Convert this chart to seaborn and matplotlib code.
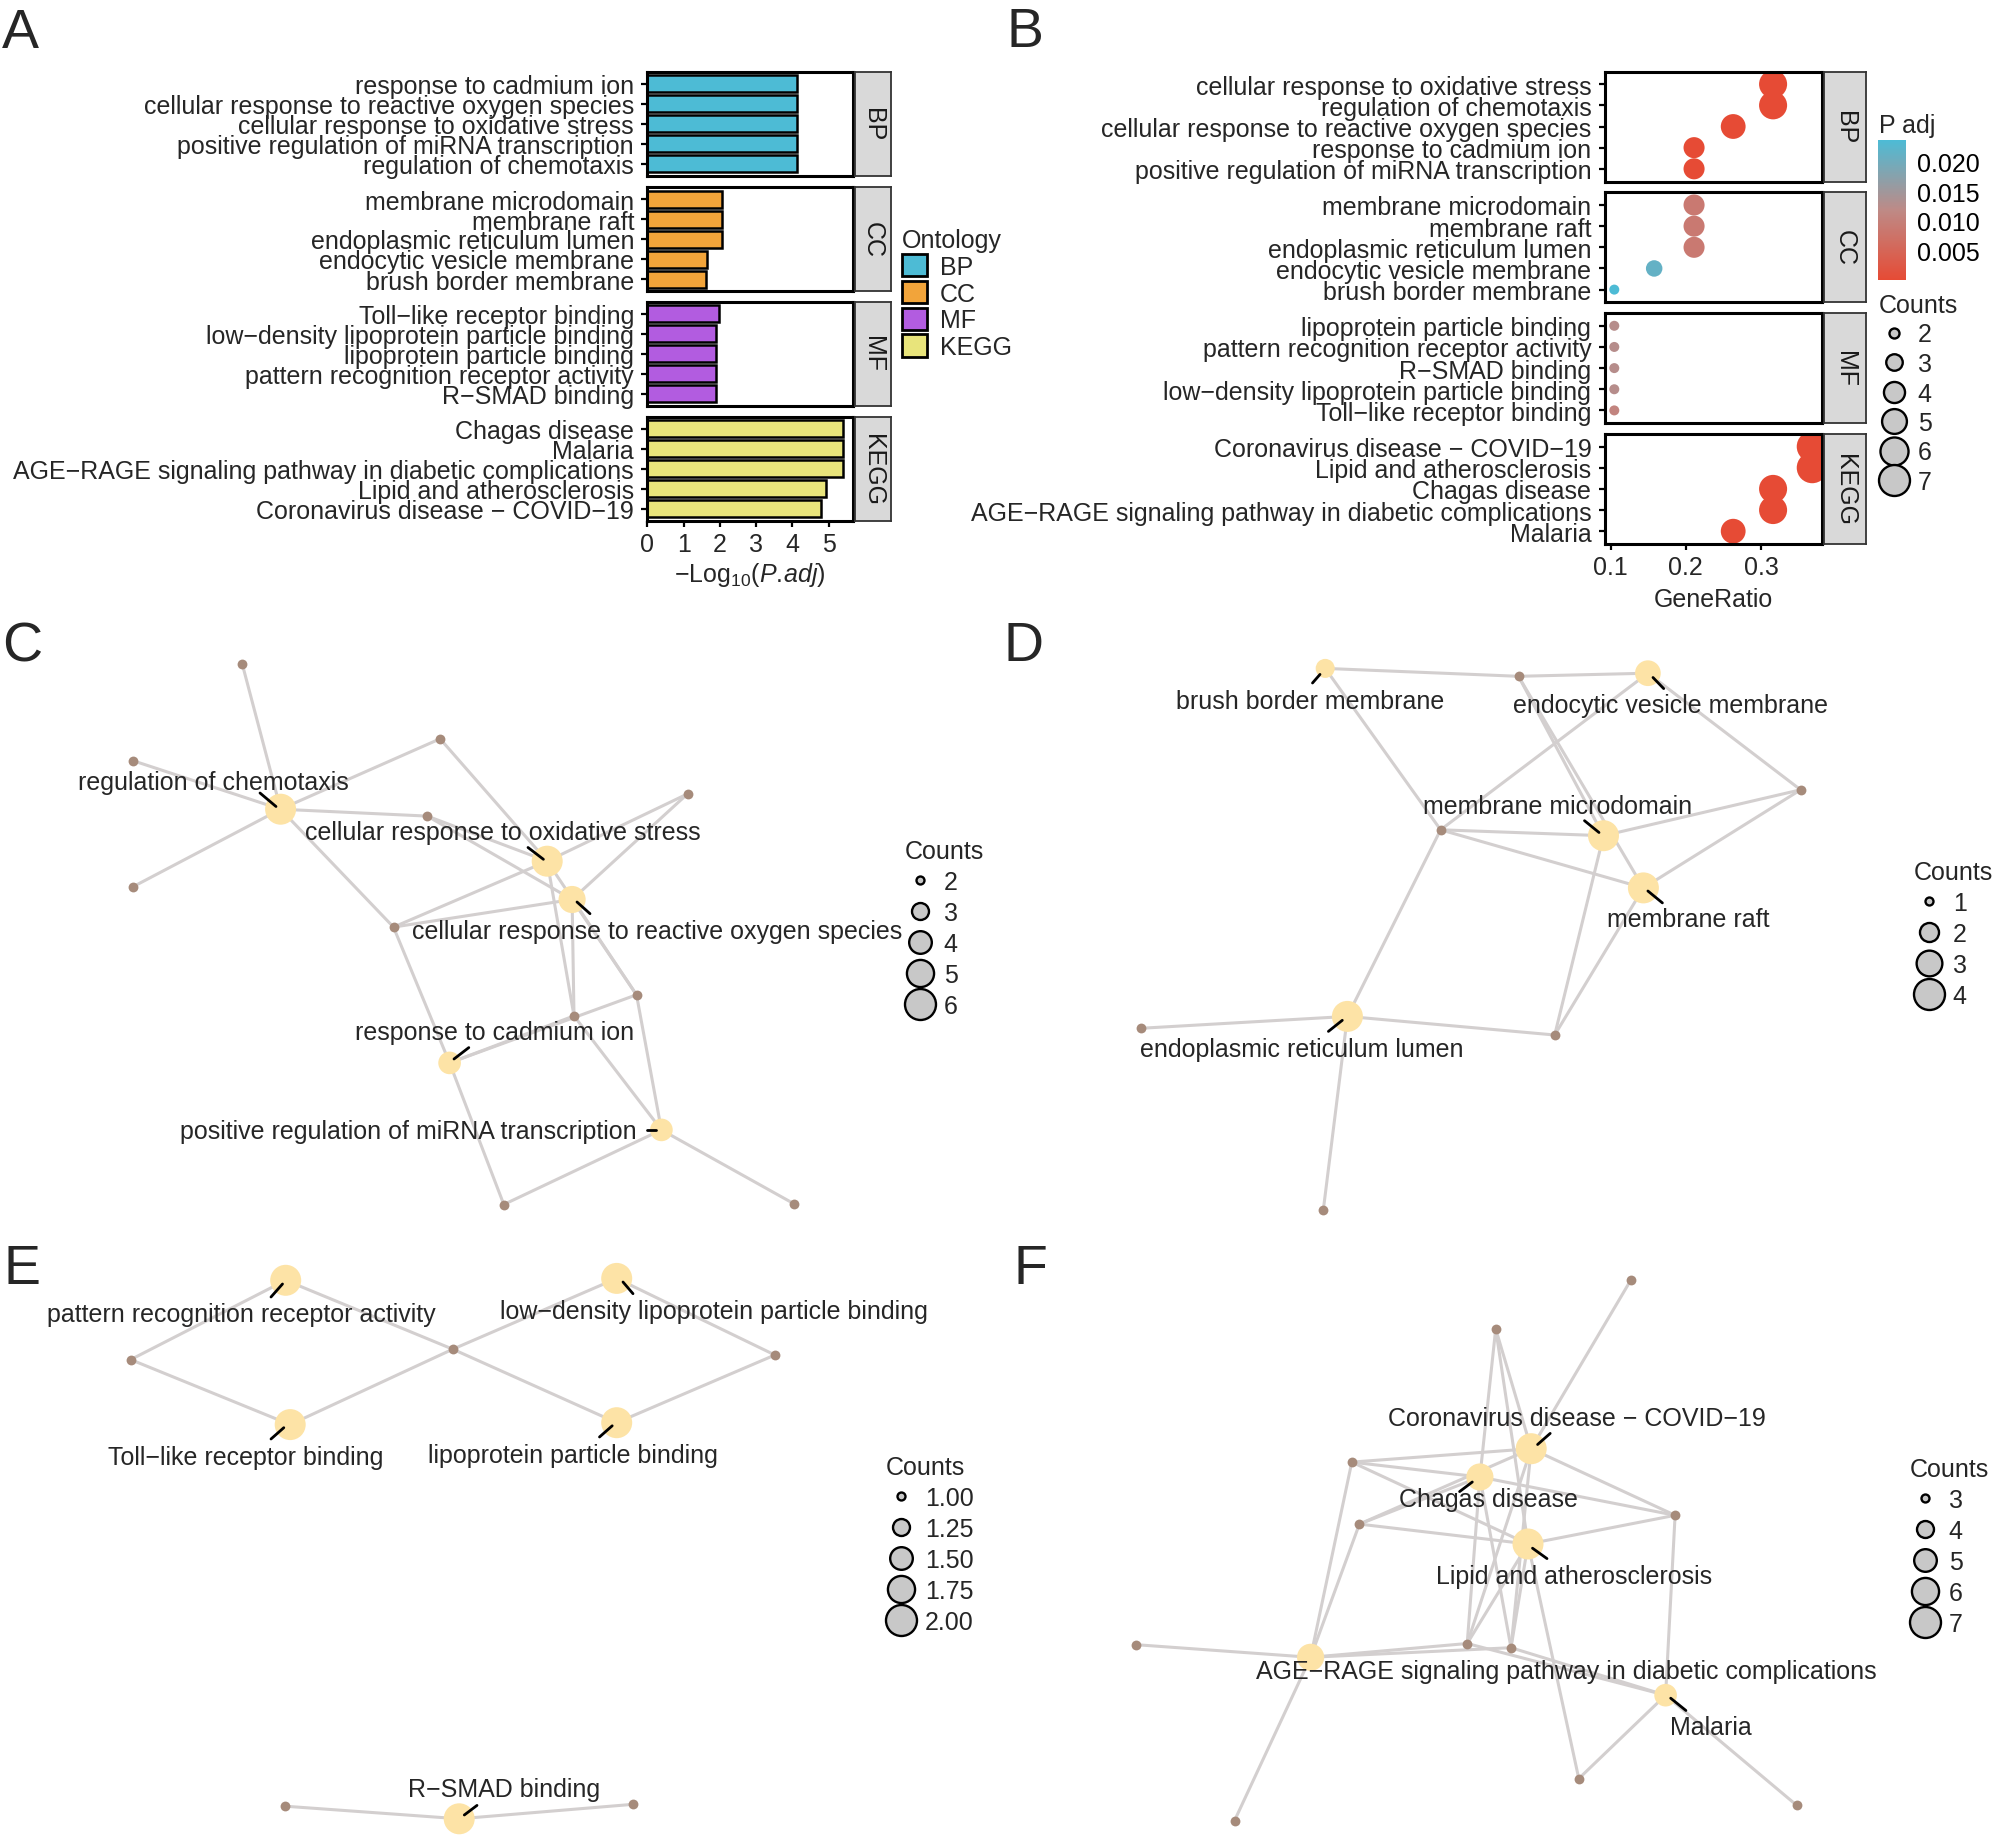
import numpy as np
import pandas as pd
import seaborn as sns
import matplotlib.pyplot as plt
import matplotlib.cm as cm
from matplotlib.colors import LinearSegmentedColormap, Normalize
from matplotlib.lines import Line2D
from matplotlib.patches import Patch

sns.set_theme(style="white")
plt.rcParams['font.family'] = ['Liberation Sans', 'DejaVu Sans']
plt.rcParams['mathtext.fontset'] = 'custom'
plt.rcParams['mathtext.rm'] = 'Liberation Sans'
plt.rcParams['mathtext.it'] = 'Liberation Sans:italic'

W, H = 1994, 1840
FS = 18

# ---------------- panel A data (-log10 padj) ----------------
bp_terms = ["response to cadmium ion", "cellular response to reactive oxygen species",
            "cellular response to oxidative stress", "positive regulation of miRNA transcription",
            "regulation of chemotaxis"]
bp_logp = [4.12, 4.12, 4.12, 4.12, 4.12]
cc_terms = ["membrane microdomain", "membrane raft", "endoplasmic reticulum lumen",
            "endocytic vesicle membrane", "brush border membrane"]
cc_logp = [2.06, 2.06, 2.06, 1.65, 1.62]
mf_terms = ["Toll−like receptor binding", "low−density lipoprotein particle binding",
            "lipoprotein particle binding", "pattern recognition receptor activity", "R−SMAD binding"]
mf_logp = [1.97, 1.90, 1.90, 1.90, 1.90]
kegg_terms = ["Chagas disease", "Malaria", "AGE−RAGE signaling pathway in diabetic complications",
              "Lipid and atherosclerosis", "Coronavirus disease − COVID−19"]
kegg_logp = [5.39, 5.39, 5.39, 4.93, 4.79]
onto_names = ["BP", "CC", "MF", "KEGG"]
onto_colors = ["#4DBBD5", "#F2A43A", "#B25CE0", "#E8E47B"]

# ---------------- panel B data ----------------
bp_b_terms = ["cellular response to oxidative stress", "regulation of chemotaxis",
              "cellular response to reactive oxygen species", "response to cadmium ion",
              "positive regulation of miRNA transcription"]
bp_b_ratio = [0.316, 0.316, 0.263, 0.211, 0.211]
bp_b_count = [6, 6, 5, 4, 4]
bp_b_padj = [7.6e-5, 7.6e-5, 7.6e-5, 7.6e-5, 7.6e-5]
cc_b_terms = ["membrane microdomain", "membrane raft", "endoplasmic reticulum lumen",
              "endocytic vesicle membrane", "brush border membrane"]
cc_b_ratio = [0.211, 0.211, 0.211, 0.158, 0.105]
cc_b_count = [4, 4, 4, 3, 2]
cc_b_padj = [0.0087, 0.0087, 0.0087, 0.0212, 0.0236]
mf_b_terms = ["lipoprotein particle binding", "pattern recognition receptor activity", "R−SMAD binding",
              "low−density lipoprotein particle binding", "Toll−like receptor binding"]
mf_b_ratio = [0.105, 0.105, 0.105, 0.105, 0.105]
mf_b_count = [2, 2, 2, 2, 2]
mf_b_padj = [0.0126, 0.0126, 0.0126, 0.0126, 0.0107]
kegg_b_terms = ["Coronavirus disease − COVID−19", "Lipid and atherosclerosis", "Chagas disease",
                "AGE−RAGE signaling pathway in diabetic complications", "Malaria"]
kegg_b_ratio = [0.368, 0.368, 0.316, 0.316, 0.263]
kegg_b_count = [7, 7, 6, 6, 5]
kegg_b_padj = [1.6e-5, 1.2e-5, 4.1e-6, 4.1e-6, 4.1e-6]

# ---------------- network data (layout coords, px inside each panel) ----------------
# C: BP
c_cat = ["regulation of chemotaxis", "cellular response to oxidative stress",
         "cellular response to reactive oxygen species", "response to cadmium ion",
         "positive regulation of miRNA transcription"]
c_cat_x = [280.6, 547.2, 572.1, 449.6, 661.4]
c_cat_y = [190.2, 242.2, 280.5, 443.9, 510.9]
c_count = [6, 6, 5, 4, 4]
c_gene_x = [242.3, 132.7, 132.7, 440.1, 427.3, 687.5, 393.5, 636.5, 574.0, 503.8, 794.0]
c_gene_y = [45.2, 141.6, 267.9, 119.8, 197.1, 174.9, 308.1, 375.8, 396.9, 585.5, 584.8]
c_links = [[0, 1, 2, 3, 4, 6], [3, 4, 5, 6, 8, 7], [4, 5, 6, 8, 7], [6, 8, 7, 9], [7, 8, 9, 10]]
c_lab_x = [213.6, 502.6, 656.9, 494.3, 408.2]
c_lab_y = [163.4, 213.2, 311.9, 413.3, 512.0]
c_lead = [(260, 174, 276, 187.5), (528, 228.5, 543.4, 240.3), (577, 283, 590, 294.7),
          (468.8, 428.6, 454, 440), (647, 511, 656, 511)]

# D: CC
d_cat = ["brush border membrane", "endocytic vesicle membrane", "membrane microdomain",
         "membrane raft", "endoplasmic reticulum lumen"]
d_cat_x = [328.2, 650.9, 606.5, 646.4, 350.4]
d_cat_y = [49.4, 54.2, 216.7, 268.9, 397.4]
d_count = [2, 3, 4, 4, 4]
d_gene_x = [521.5, 803.6, 443.6, 143.7, 557.7, 326.3]
d_gene_y = [57.3, 170.8, 210.8, 409.3, 416.0, 591.1]
d_links = [[0, 2], [0, 1, 2], [0, 1, 2, 4], [0, 1, 2, 4], [2, 3, 4, 5]]
d_lab_x = [313.6, 673.7, 560.9, 690.8, 304.7]
d_lab_y = [82.2, 86.2, 187.0, 300.5, 430.2]
d_lead = [(315.5, 64, 323, 55.4), (656, 58.5, 666.7, 69.6), (587.5, 201.7, 602, 213.5),
          (650.9, 272, 665.4, 283.9), (345.3, 401.3, 331.4, 412.4)]

# E: MF
e_cat = ["pattern recognition receptor activity", "low−density lipoprotein particle binding",
         "Toll−like receptor binding", "lipoprotein particle binding", "R−SMAD binding"]
e_cat_x = [285.7, 616.7, 290.2, 616.7, 459.2]
e_cat_y = [41.3, 39.4, 185.6, 183.7, 579.8]
e_count = [2, 2, 2, 2, 2]
e_gene_x = [130.7, 452.8, 774.9, 285.1, 633.3]
e_gene_y = [120.6, 110.2, 116.0, 567.2, 565.3]
e_links = [[0, 1], [1, 2], [0, 1], [1, 2], [3, 4]]
e_lab_x = [241.0, 714.3, 245.5, 572.7, 503.8]
e_lab_y = [74.6, 72.0, 218.1, 216.2, 550.0]
e_lead = [(271, 58, 282.5, 45), (623, 43, 633, 54.7), (271, 200, 283.8, 188.7),
          (599.5, 198, 612.2, 186.8), (464.3, 576, 477, 566.4)]

# F: KEGG
f_cat = ["Coronavirus disease − COVID−19", "Chagas disease", "Lipid and atherosclerosis",
         "AGE−RAGE signaling pathway in diabetic complications", "Malaria"]
f_cat_x = [534.2, 482.9, 531.0, 313.6, 668.6]
f_cat_y = [209.7, 238.0, 305.0, 418.3, 456.2]
f_count = [7, 6, 7, 6, 5]
f_gene_x = [633.7, 498.7, 354.8, 678.1, 362.4, 139.3, 470.2, 514.0, 581.8, 237.5, 799.8]
f_gene_y = [41.3, 89.9, 223.1, 276.3, 285.1, 405.7, 404.5, 408.7, 539.6, 581.7, 566.4]
f_links = [[0, 1, 2, 3, 4, 6, 7], [1, 2, 3, 4, 6, 7], [1, 2, 3, 4, 6, 7, 8],
           [2, 4, 5, 6, 7, 9], [3, 6, 7, 8, 10]]
f_lab_x = [579.9, 491.1, 576.7, 569.1, 714.3]
f_lab_y = [178.7, 260.2, 336.8, 432.5, 488.0]
f_lead = [(540.6, 205.5, 553.2, 194.4), (475.3, 243, 462.6, 252.6), (535.5, 309.2, 550, 319.6),
          None, (673.7, 459.2, 688.9, 471.5)]


def box(x0, y0, x1, y1):
    return [x0 / W, 1 - y1 / H, (x1 - x0) / W, (y1 - y0) / H]


def frame(ax):
    for s in ax.spines.values():
        s.set_visible(True)
        s.set_color('black')
        s.set_linewidth(2.2)


def strip(x0, y0, x1, y1, text):
    sax = fig.add_axes(box(x0, y0, x1, y1))
    sax.set_facecolor('#D9D9D9')
    for s in sax.spines.values():
        s.set_visible(True)
        s.set_color('#333333')
        s.set_linewidth(1.3)
    sax.set_xticks([])
    sax.set_yticks([])
    sax.text(0.5, 0.5, text, rotation=-90, ha='center', va='center', fontsize=FS,
             color='#1A1A1A', transform=sax.transAxes)


def size_legend(values, labels, s_range, norm, x, y, spacing=0.28, face='#C8C8C8'):
    handles = []
    for v in values:
        s = s_range[0] + (v - norm[0]) / (norm[1] - norm[0]) * (s_range[1] - s_range[0])
        handles.append(Line2D([], [], linestyle='none', marker='o', markersize=np.sqrt(s),
                              markerfacecolor=face, markeredgecolor='black', markeredgewidth=1.7))
    fig.legend(handles, labels, loc='upper left', bbox_to_anchor=(x / W, 1 - y / H),
               title='Counts', frameon=False, fontsize=FS, title_fontsize=FS, alignment='left',
               handlelength=1.2, handletextpad=0.35, labelspacing=spacing, borderpad=0, borderaxespad=0)


fig = plt.figure(figsize=(19.94, 18.40), dpi=100)

# ---------------- A: bar facets ----------------
a_sets = [(bp_terms, bp_logp), (cc_terms, cc_logp), (mf_terms, mf_logp), (kegg_terms, kegg_logp)]
a_rows = [(72.5, 177), (188, 292), (302.5, 406.5), (417.5, 521.5)]
for i, ((terms, vals), (y0, y1)) in enumerate(zip(a_sets, a_rows)):
    ax = fig.add_axes(box(647.3, y0, 852.7, y1))
    sns.barplot(x=vals, y=terms, orient='h', color=onto_colors[i], saturation=1,
                edgecolor='black', linewidth=1.8, width=0.85, ax=ax)
    ax.set_xlim(0, 5.66)
    ax.set_ylim(4.6, -0.6)
    ax.set_ylabel('')
    ax.tick_params(axis='y', left=True, length=4, width=1.6, pad=5.5, labelsize=FS, color='black')
    frame(ax)
    if i < 3:
        ax.set_xticks([])
    else:
        ax.set_xticks(range(6))
        ax.tick_params(axis='x', bottom=True, length=4, width=1.6, pad=4, labelsize=FS, color='black')
        ax.set_xlabel('−Log$_{10}$($\\mathit{P.\\!adj}$)', fontsize=FS, labelpad=3)
    strip(854.5, y0, 891, y1, onto_names[i])

fig.legend([Patch(facecolor=c, edgecolor='black', linewidth=2) for c in onto_colors], onto_names,
           loc='upper left', bbox_to_anchor=(902 / W, 1 - 229 / H), title='Ontology', frameon=False,
           fontsize=FS, title_fontsize=FS, alignment='left', handlelength=1.0, handleheight=1.0,
           handletextpad=0.5, labelspacing=0.08, borderpad=0, borderaxespad=0)

# ---------------- B: dot facets ----------------
cmap = LinearSegmentedColormap.from_list('padj', ['#E64B35', '#BE8A86', '#4DBBD5'])
pnorm = Normalize(vmin=4.1e-6, vmax=0.0236)
b_sets = [(bp_b_terms, bp_b_ratio, bp_b_count, bp_b_padj),
          (cc_b_terms, cc_b_ratio, cc_b_count, cc_b_padj),
          (mf_b_terms, mf_b_ratio, mf_b_count, mf_b_padj),
          (kegg_b_terms, kegg_b_ratio, kegg_b_count, kegg_b_padj)]
b_rows = [(72.5, 182.5), (193.3, 303.3), (314.1, 424.1), (434.9, 544.9)]
for i, ((terms, ratio, cnt, padj), (y0, y1)) in enumerate(zip(b_sets, b_rows)):
    ax = fig.add_axes(box(1604.5, y0, 1822, y1))
    df = pd.DataFrame({'term': terms, 'ratio': ratio, 'count': cnt, 'padj': padj})
    sns.scatterplot(data=df, x='ratio', y='term', hue='padj', palette=cmap, hue_norm=pnorm,
                    size='count', sizes=(52, 497), size_norm=(2, 7), linewidth=0, legend=False, ax=ax)
    ax.set_xlim(0.092, 0.381)
    ax.set_ylim(4.6, -0.6)
    ax.set_ylabel('')
    ax.tick_params(axis='y', left=True, length=4, width=1.6, pad=5.5, labelsize=FS, color='black')
    frame(ax)
    if i < 3:
        ax.set_xticks([])
        ax.set_xlabel('')
    else:
        ax.set_xticks([0.1, 0.2, 0.3])
        ax.set_xticklabels(['0.1', '0.2', '0.3'])
        ax.tick_params(axis='x', bottom=True, length=4, width=1.6, pad=4, labelsize=FS, color='black')
        ax.set_xlabel('GeneRatio', fontsize=FS, labelpad=6)
    strip(1824, y0, 1866, y1, onto_names[i])

cax = fig.add_axes(box(1878, 141, 1906, 281))
cb = fig.colorbar(cm.ScalarMappable(norm=pnorm, cmap=cmap), cax=cax, ticks=[0.005, 0.010, 0.015, 0.020])
cb.ax.set_yticklabels(['0.005', '0.010', '0.015', '0.020'])
cb.outline.set_visible(False)
cb.minorticks_off()
cax.tick_params(direction='in', color='white', length=5, width=1.3, left=True, right=True,
                labelsize=FS, labelcolor='black', pad=8)
fig.text(1879 / W, 1 - 133 / H, 'P adj', fontsize=FS, ha='left', va='baseline')
size_legend([2, 3, 4, 5, 6, 7], ['2', '3', '4', '5', '6', '7'], (52, 497), (2, 7), 1879, 294,
            spacing=0.22)


# ---------------- C-F: gene-concept networks ----------------
def draw_net(px, cat, cx, cy, counts, gx, gy, links, lx, ly, leads, norm):
    ax = fig.add_axes(box(*px))
    ax.set_xlim(0, px[2] - px[0])
    ax.set_ylim(px[3] - px[1], 0)
    ax.axis('off')
    for ci, genes in enumerate(links):
        for gi in genes:
            ax.plot([cx[ci], gx[gi]], [cy[ci], gy[gi]], color='#D3CFCF', lw=2.2, zorder=1,
                    solid_capstyle='round')
    sns.scatterplot(x=gx, y=gy, color='#A68B7B', s=50, linewidth=0, ax=ax, zorder=2, legend=False)
    sns.scatterplot(x=cx, y=cy, size=counts, sizes=(33, 498), size_norm=norm, color='#FDE3A6',
                    linewidth=0, ax=ax, zorder=3, legend=False, clip_on=False)
    for name, tx, ty, ld in zip(cat, lx, ly, leads):
        if ld is not None:
            ax.plot([ld[0], ld[2]], [ld[1], ld[3]], color='black', lw=2, zorder=4)
        ax.text(tx, ty, name, ha='center', va='center', fontsize=FS, zorder=5)
    ax.set_xlim(0, px[2] - px[0])
    ax.set_ylim(px[3] - px[1], 0)
    return ax


draw_net((0, 620, 997, 1240), c_cat, c_cat_x, c_cat_y, c_count, c_gene_x, c_gene_y, c_links,
         c_lab_x, c_lab_y, c_lead, (2, 6))
size_legend([2, 3, 4, 5, 6], ['2', '3', '4', '5', '6'], (33, 498), (2, 6), 905, 840)

draw_net((997, 620, 1994, 1240), d_cat, d_cat_x, d_cat_y, d_count, d_gene_x, d_gene_y, d_links,
         d_lab_x, d_lab_y, d_lead, (1, 4))
size_legend([1, 2, 3, 4], ['1', '2', '3', '4'], (33, 498), (1, 4), 1914, 861)

draw_net((0, 1240, 997, 1840), e_cat, e_cat_x, e_cat_y, e_count, e_gene_x, e_gene_y, e_links,
         e_lab_x, e_lab_y, e_lead, (1, 2))
size_legend([1.0, 1.25, 1.5, 1.75, 2.0], ['1.00', '1.25', '1.50', '1.75', '2.00'], (33, 498), (1, 2), 886, 1456)

draw_net((997, 1240, 1994, 1840), f_cat, f_cat_x, f_cat_y, f_count, f_gene_x, f_gene_y, f_links,
         f_lab_x, f_lab_y, f_lead, (3, 7))
size_legend([3, 4, 5, 6, 7], ['3', '4', '5', '6', '7'], (33, 498), (3, 7), 1910, 1458)

# panel letters
for letter, x, y in [('A', 2, 48), ('B', 1006, 47), ('C', 2, 662), ('D', 1004, 661),
                     ('E', 4, 1284), ('F', 1013, 1284)]:
    fig.text(x / W, 1 - y / H, letter, fontsize=40, ha='left', va='baseline')

fig.savefig('out.png', dpi=100)
